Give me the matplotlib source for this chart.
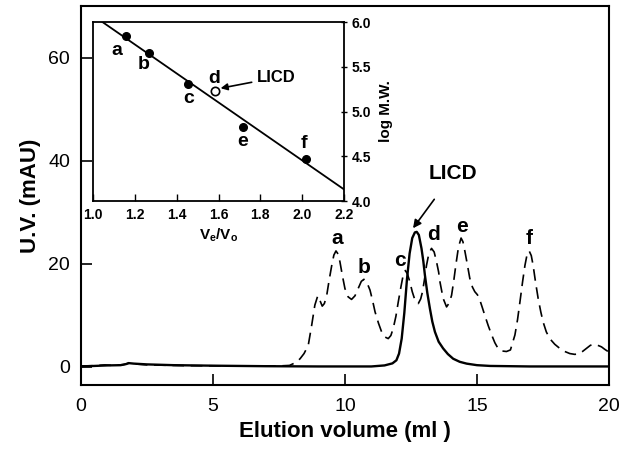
import numpy as np
import matplotlib
matplotlib.use("Agg")
import matplotlib.pyplot as plt

plt.rcParams['font.family'] = ['Liberation Sans', 'DejaVu Sans']
plt.rcParams['mathtext.fontset'] = 'custom'
plt.rcParams['mathtext.rm'] = 'Liberation Sans'
plt.rcParams['mathtext.bf'] = 'Liberation Sans:bold'

# main chromatogram: standards (dashed) and LICD (solid)
std_x = [0, 0.5, 0.9, 1.2, 1.6, 1.8, 2.0, 2.5, 4.0, 6.0, 7.5, 7.9, 8.15, 8.3, 8.45,
         8.61, 8.74, 8.86, 8.97, 9.06, 9.14, 9.22, 9.31, 9.40, 9.50, 9.58, 9.66,
         9.74, 9.81, 9.90, 10.0, 10.12, 10.25, 10.38, 10.5, 10.62, 10.72, 10.83,
         10.95, 11.05, 11.14, 11.27, 11.39, 11.52, 11.64, 11.74, 11.83, 11.93,
         12.02, 12.12, 12.21, 12.29, 12.37, 12.46, 12.55, 12.65, 12.78, 12.87,
         12.94, 13.02, 13.09, 13.18, 13.28, 13.38, 13.47, 13.55, 13.6, 13.72,
         13.85, 13.95, 14.04, 14.12, 14.2, 14.3, 14.4, 14.47, 14.55, 14.64,
         14.73, 14.83, 14.92, 15.02, 15.11, 15.2, 15.3, 15.43, 15.56, 15.68,
         15.8, 15.95, 16.12, 16.27, 16.44, 16.54, 16.63, 16.73, 16.82, 16.9,
         16.98, 17.06, 17.13, 17.22, 17.32, 17.42, 17.51, 17.63, 17.76, 17.95,
         18.14, 18.33, 18.52, 18.7, 18.84, 19.0, 19.15, 19.3, 19.43, 19.58,
         19.72, 19.85, 20.0]
std_y = [0.2, 0.25, 0.4, 0.3, 0.45, 0.7, 0.6, 0.4, 0.25, 0.2, 0.2, 0.3, 0.9, 1.6, 2.6,
         4.2, 8.1, 12.0, 13.8, 12.8, 11.8, 12.3, 13.9, 16.8, 19.7, 21.7, 22.5,
         21.9, 20.4, 17.8, 15.2, 13.6, 13.1, 13.8, 15.2, 16.6, 17.0, 16.4,
         14.9, 12.8, 10.7, 8.5, 6.8, 5.8, 5.5, 6.1, 7.5, 9.8,
         12.6, 15.5, 17.9, 18.7, 18.0, 16.5, 14.6, 13.0, 12.3, 13.2,
         14.6, 17.2, 19.7, 22.0, 23.0, 22.3, 20.4, 18.4, 16.5, 13.3,
         11.65, 12.4, 13.9, 16.6, 19.7, 23.2, 25.0, 24.3, 22.3, 19.8,
         17.2, 15.5, 14.6, 14.0, 13.0, 11.6, 10.0, 8.0, 6.2, 4.7,
         3.6, 3.1, 3.0, 3.3, 6.2, 9.2, 12.6, 16.5, 19.7, 21.8,
         22.5, 21.6, 19.7, 16.5, 13.3, 10.7, 8.7, 6.8, 5.5, 4.4,
         3.6, 3.0, 2.6, 2.45, 2.5, 3.0, 3.6, 4.2, 4.4, 4.2,
         3.9, 3.4, 2.9]

licd_x = [0, 0.5, 1.0, 1.5, 1.7, 1.8, 2.0, 2.5, 3.5, 5.0, 7.0, 9.0, 11.0, 11.5,
          11.8, 11.95, 12.05, 12.15, 12.25, 12.35, 12.45, 12.55, 12.65, 12.72,
          12.8, 12.9, 12.97, 13.03, 13.12, 13.22, 13.31, 13.41, 13.55, 13.72,
          13.9, 14.1, 14.35, 14.61, 15.0, 15.5, 17.0, 20.0]
licd_y = [0.1, 0.2, 0.3, 0.35, 0.55, 0.75, 0.65, 0.5, 0.35, 0.25, 0.15, 0.1, 0.1, 0.3,
          0.7, 1.3, 2.6, 5.5, 10.5, 17.0, 22.0, 25.0, 26.1, 26.2,
          25.6, 23.0, 20.5, 17.8, 14.4, 11.3, 8.8, 6.8, 4.9, 3.6,
          2.5, 1.6, 1.0, 0.65, 0.35, 0.2, 0.1, 0.1]

peak_names = ['a', 'b', 'c', 'd', 'e', 'f']
peak_lab_x = [9.69, 10.73, 12.08, 13.35, 14.42, 16.98]
peak_lab_y = [24.9, 19.2, 20.7, 25.6, 27.3, 24.9]

# inset: calibration curve
ve_vo = [1.157, 1.269, 1.456, 1.715, 2.016]
log_mw = [5.84, 5.65, 5.31, 4.83, 4.47]
licd_ve_vo = 1.581
licd_log_mw = 5.23
fit_x = [1.045, 2.2]
fit_y = [6.0, 4.13]
inset_lab_x = [1.115, 1.24, 1.456, 1.58, 1.715, 2.01]
inset_lab_y = [5.68, 5.52, 5.14, 5.37, 4.67, 4.64]

fig = plt.figure(figsize=(6.29, 4.51), dpi=100)
ax = fig.add_axes([0.1288, 0.1463, 0.8392, 0.8404])

ax.plot(std_x, std_y, color='black', lw=1.2, dashes=(7, 4))
ax.plot(licd_x, licd_y, color='black', lw=1.7)

for n, x, y in zip(peak_names, peak_lab_x, peak_lab_y):
    ax.text(x, y, n, fontsize=15, fontweight='bold', ha='center', va='center')
ax.annotate('LICD', xy=(12.58, 26.9), xytext=(14.1, 37.5), fontsize=15,
            fontweight='bold', ha='center', va='center',
            arrowprops=dict(arrowstyle='-|>', color='black', lw=1.2,
                            shrinkA=12, shrinkB=0, mutation_scale=12))

ax.set_xlim(0, 20)
ax.set_ylim(-3.5, 70)
ax.set_xticks([0, 5, 10, 15, 20])
ax.set_yticks([0, 20, 40, 60])
ax.tick_params(direction='in', length=8, width=1.2, labelsize=14)
ax.tick_params(axis='x', pad=9)
ax.tick_params(axis='y', pad=8)
for s in ax.spines.values():
    s.set_linewidth(1.5)
ax.set_xlabel('Elution volume (ml )', fontsize=16, fontweight='bold', labelpad=5)
ax.set_ylabel('U.V. (mAU)', fontsize=16, fontweight='bold', labelpad=5)

# inset
ins = fig.add_axes([0.1479, 0.5543, 0.399, 0.3969])
ins.plot(fit_x, fit_y, color='black', lw=1.3)
ins.plot(ve_vo, log_mw, 'o', color='black', ms=5.5)
ins.plot([licd_ve_vo], [licd_log_mw], 'o', mfc='white', mec='black', mew=1.2, ms=6)
for n, x, y in zip(peak_names, inset_lab_x, inset_lab_y):
    ins.text(x, y, n, fontsize=14, fontweight='bold', ha='center', va='center')
ins.annotate('LICD', xy=(1.61, 5.26), xytext=(1.785, 5.38), fontsize=12,
             fontweight='bold', ha='left', va='center',
             arrowprops=dict(arrowstyle='-|>', color='black', lw=1.2,
                             shrinkA=2, shrinkB=0, mutation_scale=10))
ins.set_xlim(1.0, 2.2)
ins.set_ylim(4.0, 6.0)
ins.set_xticks(np.arange(1.0, 2.21, 0.2))
ins.set_xticklabels(['1.0', '1.2', '1.4', '1.6', '1.8', '2.0', '2.2'])
ins.set_yticks([4.0, 4.5, 5.0, 5.5, 6.0])
ins.set_yticklabels(['4.0', '4.5', '5.0', '5.5', '6.0'])
ins.yaxis.tick_right()
ins.yaxis.set_label_position('right')
ins.tick_params(axis='x', direction='in', length=5, width=1.0, labelsize=10, pad=5)
ins.tick_params(axis='y', direction='inout', length=5, width=1.0, labelsize=10, pad=3)
for lab in ins.get_xticklabels() + ins.get_yticklabels():
    lab.set_fontweight('bold')
for s in ins.spines.values():
    s.set_linewidth(1.3)
ins.set_xlabel(r'$\mathbf{V_e/V_o}$', fontsize=11, labelpad=3)
ins.set_ylabel('log M.W.', fontsize=11, fontweight='bold', rotation=90, labelpad=6)

fig.savefig('out.png', dpi=100)
